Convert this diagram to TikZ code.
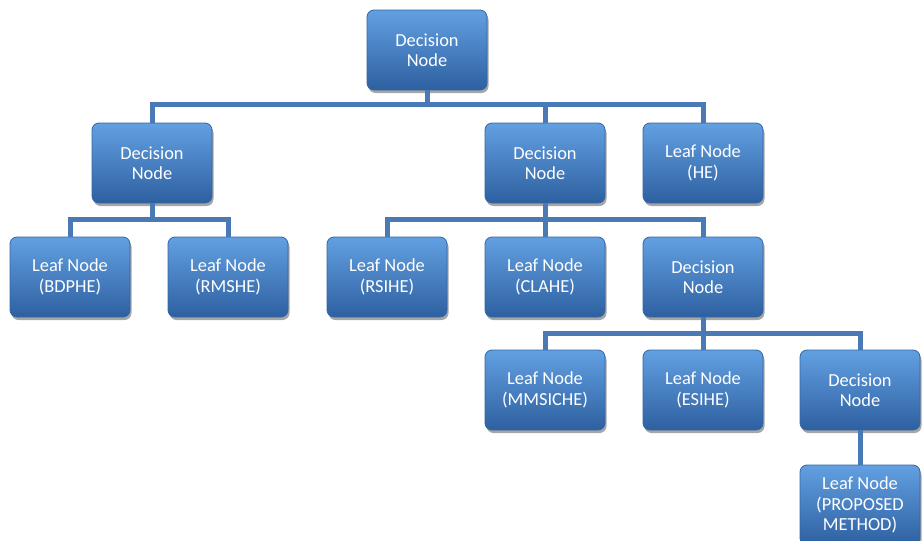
\documentclass[tikz,border=0pt]{standalone}
\usepackage{fontspec}
\setmainfont{Carlito}
\usetikzlibrary{shadows}
\definecolor{boxtop}{HTML}{62A0E2}
\definecolor{boxmid}{HTML}{3E7BC6}
\definecolor{boxbot}{HTML}{2E60A0}
\definecolor{boxedge}{HTML}{3465A4}
\definecolor{linkc}{HTML}{4A7AB6}
\begin{document}
\begin{tikzpicture}[x=1pt,y=1pt,
  tbox/.style={rectangle, rounded corners=7pt, minimum width=120pt, minimum height=80pt,
    top color=boxtop, middle color=boxmid, bottom color=boxbot, draw=boxedge, line width=0.8pt,
    text=white, align=center, font=\fontsize{18.4}{20.5}\selectfont,
    drop shadow={shadow xshift=1.5pt, shadow yshift=-3pt, fill=black, opacity=0.35}},
  link/.style={draw=linkc, line width=5pt}]
\useasboundingbox (0,0) rectangle (922,-541);
% nodes
\node[tbox] (root) at (427,-50) {Decision\\Node};
\node[tbox] (d1) at (152,-163) {Decision\\Node};
\node[tbox] (d2) at (545,-163) {Decision\\Node};
\node[tbox] (he) at (703,-163) {Leaf Node\\(HE)};
\node[tbox] (bdphe) at (70,-277) {Leaf Node\\(BDPHE)};
\node[tbox] (rmshe) at (228,-277) {Leaf Node\\(RMSHE)};
\node[tbox] (rsihe) at (387,-277) {Leaf Node\\(RSIHE)};
\node[tbox] (clahe) at (545,-277) {Leaf Node\\(CLAHE)};
\node[tbox] (d3) at (703,-277) {Decision\\Node};
\node[tbox] (mmsiche) at (545,-390) {Leaf Node\\(MMSICHE)};
\node[tbox] (esihe) at (703,-390) {Leaf Node\\(ESIHE)};
\node[tbox] (d4) at (860,-390) {Decision\\Node};
\node[tbox] (prop) at (860,-505) {Leaf Node\\(PROPOSED\\METHOD)};
% bar levels
\coordinate (b0) at (0,-104);
\coordinate (b1) at (0,-219);
\coordinate (b2) at (0,-333);
% connectors
\foreach \c in {d1,d2,he}
  \draw[link] (root.south) |- (\c.north |- b0) -- (\c.north);
\foreach \c in {bdphe,rmshe}
  \draw[link] (d1.south) |- (\c.north |- b1) -- (\c.north);
\foreach \c in {rsihe,clahe,d3}
  \draw[link] (d2.south) |- (\c.north |- b1) -- (\c.north);
\foreach \c in {mmsiche,esihe,d4}
  \draw[link] (d3.south) |- (\c.north |- b2) -- (\c.north);
\draw[link] (d4.south) -- (prop.north);
\end{tikzpicture}
\end{document}
